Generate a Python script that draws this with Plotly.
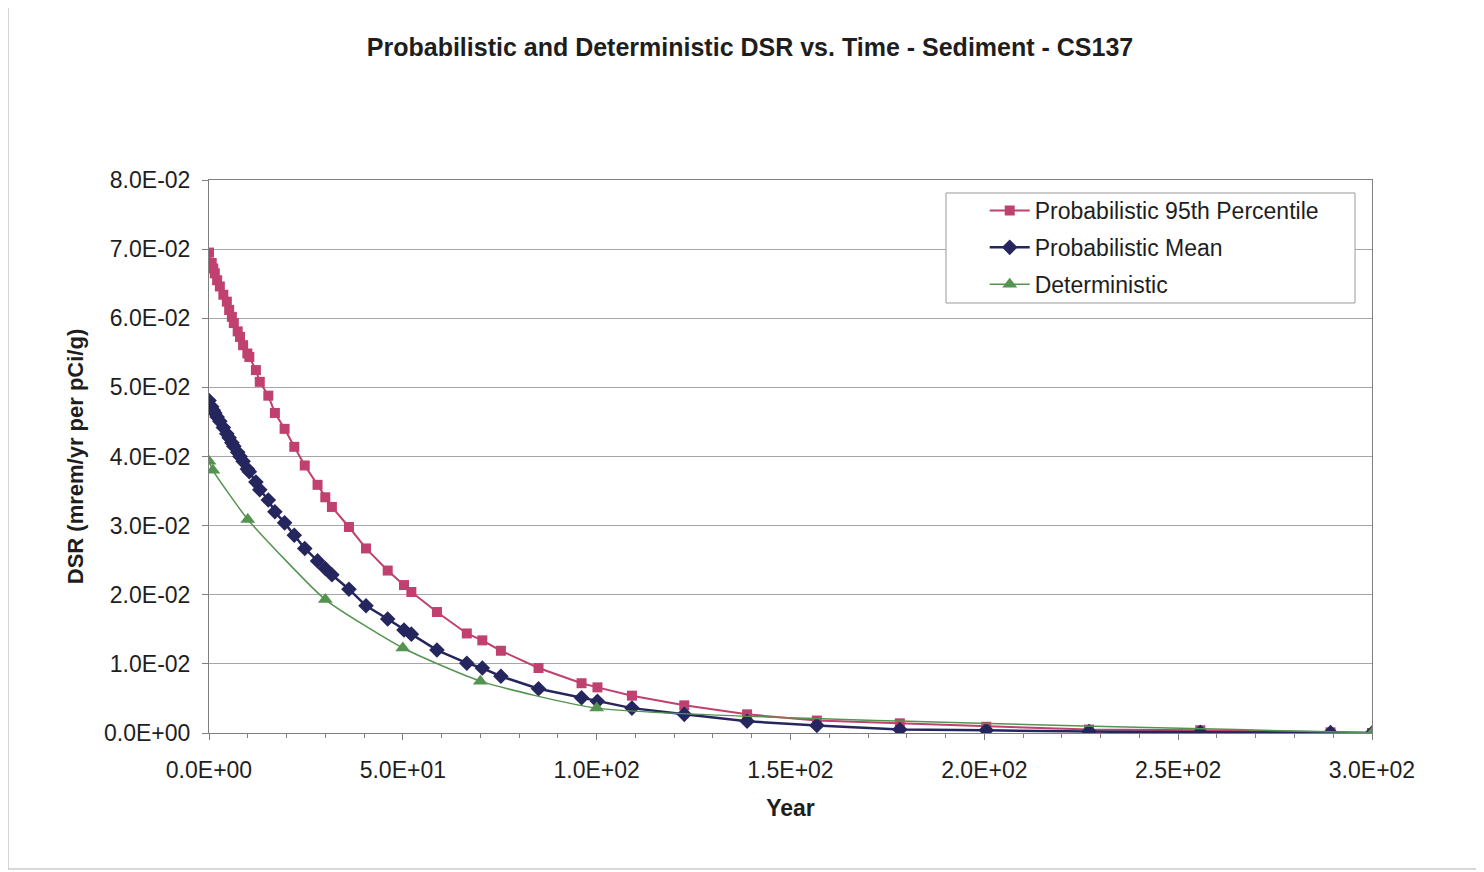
import plotly.graph_objects as go

# time points (years) shared by the two probabilistic series
years_prob = [0, 0.7, 1.1, 1.5, 2.1, 2.8, 3.7, 4.6, 5.2, 5.9, 6.4, 7.4, 8.0, 8.8, 9.9, 10.4,
              12.1, 13.1, 15.3, 17.0, 19.5, 22.0, 24.7, 28.0, 30.0, 31.7, 36.1, 40.5,
              46.1, 50.3, 52.2, 58.8, 66.5, 70.5, 75.3, 85.0, 96.1, 100.2, 109.1, 122.6,
              138.8, 156.8, 178.2, 200.5, 227.0, 255.7, 289.3, 300.0]

p95 = [0.0695, 0.0680, 0.0672, 0.0665, 0.0655, 0.0646, 0.0634, 0.0624, 0.0612, 0.0602,
       0.0593, 0.0581, 0.0573, 0.0561, 0.0549, 0.0544, 0.0525, 0.0508, 0.0488, 0.0463,
       0.0440, 0.0414, 0.0387, 0.0359, 0.0341, 0.0327, 0.0298, 0.0267, 0.0235, 0.0214,
       0.0204, 0.0175, 0.0144, 0.0134, 0.0119, 0.0094, 0.0072, 0.0066, 0.0054, 0.0040,
       0.0027, 0.0018, 0.0014, 0.0009, 0.0005, 0.0004, 0.0001, 0.0]

mean = [0.0481, 0.0472, 0.0467, 0.0463, 0.0457, 0.0451, 0.0442, 0.0433, 0.0427, 0.0420,
        0.0415, 0.0406, 0.0400, 0.0393, 0.0382, 0.0378, 0.0363, 0.0352, 0.0337, 0.0320,
        0.0304, 0.0286, 0.0267, 0.0249, 0.0238, 0.0229, 0.0208, 0.0184, 0.0165, 0.0149,
        0.0143, 0.0120, 0.0101, 0.0094, 0.0082, 0.0064, 0.0051, 0.0046, 0.0036, 0.0027,
        0.0017, 0.0011, 0.0005, 0.0004, 0.0002, 0.0001, 0.00005, 0.0]

years_det = [0, 1, 10, 30, 50, 70, 100, 300]
deterministic = [0.0393, 0.0380, 0.0309, 0.0193, 0.0123, 0.0075, 0.0036, 0.00005]

y_ticks = [0.0, 0.01, 0.02, 0.03, 0.04, 0.05, 0.06, 0.07, 0.08]
y_labels = ["0.0E+00", "1.0E-02", "2.0E-02", "3.0E-02", "4.0E-02",
            "5.0E-02", "6.0E-02", "7.0E-02", "8.0E-02"]
x_ticks = [0, 50, 100, 150, 200, 250, 300]
x_labels = ["0.0E+00", "5.0E+01", "1.0E+02", "1.5E+02", "2.0E+02", "2.5E+02", "3.0E+02"]

FONT = "Arial, Liberation Sans, sans-serif"
TEXT = "#1E1E1E"
PINK = "#C0406F"
NAVY = "#26265E"
GREEN = "#549450"

fig = go.Figure()

fig.add_trace(go.Scatter(
    x=years_prob, y=p95, mode="lines+markers", name="Probabilistic 95th Percentile",
    legendgroup="a",
    line={"color": PINK, "width": 2},
    marker={"symbol": "square", "size": 10, "color": PINK},
))
fig.add_trace(go.Scatter(
    x=years_prob, y=mean, mode="lines+markers", name="Probabilistic Mean",
    legendgroup="b",
    line={"color": NAVY, "width": 2.5},
    marker={"symbol": "diamond", "size": 12, "color": NAVY},
))
fig.add_trace(go.Scatter(
    x=years_det, y=deterministic, mode="lines+markers", name="Deterministic",
    legendgroup="c",
    line={"color": GREEN, "width": 1.5, "shape": "spline", "smoothing": 0.5},
    marker={"symbol": "triangle-up", "size": 13, "color": GREEN},
))

fig.update_xaxes(
    range=[0, 300], tickvals=x_ticks, ticktext=x_labels,
    showgrid=False, zeroline=False,
    showline=True, linecolor="#7F7F7F", linewidth=1, mirror=True,
    ticks="outside", ticklen=6, tickcolor="#7F7F7F", ticklabelstandoff=10,
    minor={"dtick": 10, "ticks": "outside", "ticklen": 4, "tickcolor": "#7F7F7F"},
    tickfont={"family": FONT, "size": 23, "color": TEXT},
    title={"text": "<b>Year</b>", "font": {"family": FONT, "size": 23, "color": TEXT},
           "standoff": 18},
)
fig.update_yaxes(
    range=[0, 0.08], tickvals=y_ticks, ticktext=y_labels,
    showgrid=True, gridcolor="#A6A6A6", gridwidth=1, zeroline=False,
    showline=True, linecolor="#7F7F7F", linewidth=1, mirror=True,
    ticks="outside", ticklen=6, tickcolor="#7F7F7F", ticklabelstandoff=7,
    tickfont={"family": FONT, "size": 23, "color": TEXT},
    title={"text": "<b>DSR (mrem/yr per pCi/g)</b>",
           "font": {"family": FONT, "size": 22, "color": TEXT}, "standoff": 14},
)

# outer chart frame
fig.add_shape(type="rect", xref="paper", yref="paper",
              x0=-0.1728, x1=1.0911, y0=-0.2459, y1=1.3165,
              line={"color": "#B0B0B0", "width": 1}, layer="below")
# legend box
fig.add_shape(type="rect", xref="paper", yref="paper",
              x0=0.6337, x1=0.9854, y0=0.7776, y1=0.9765,
              line={"color": "#9A9A9A", "width": 1}, fillcolor="white", layer="above")

fig.update_layout(
    width=1484, height=872,
    margin={"l": 201, "r": 120, "t": 172, "b": 147},
    paper_bgcolor="white", plot_bgcolor="white",
    title={"text": "<b>Probabilistic and Deterministic DSR vs. Time - Sediment - CS137</b>",
           "x": 0.5, "xanchor": "center", "y": 0.955, "yanchor": "middle",
           "font": {"family": FONT, "size": 25, "color": TEXT}},
    legend={"x": 0.667, "y": 0.9837, "xanchor": "left", "yanchor": "top",
            "bgcolor": "rgba(0,0,0,0)", "borderwidth": 0,
            "font": {"family": FONT, "size": 23, "color": TEXT},
            "itemwidth": 40, "tracegroupgap": 4},
    showlegend=True,
)

fig.write_html("out.html")
